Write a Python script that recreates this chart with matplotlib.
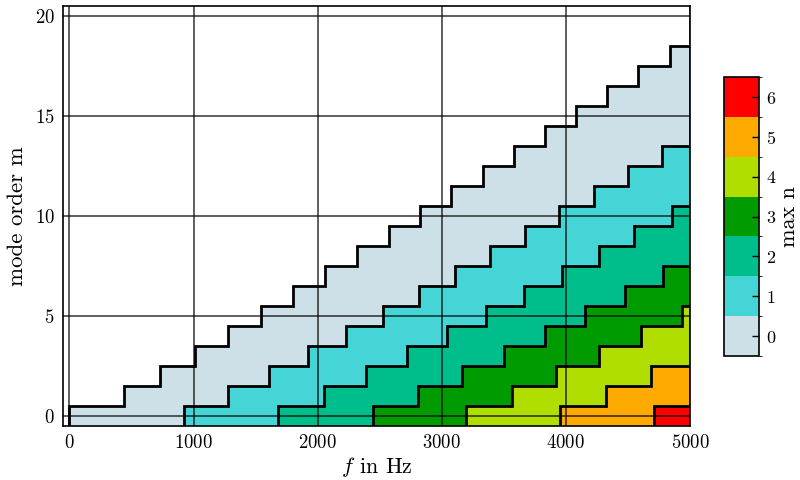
import numpy as np
import matplotlib
matplotlib.use("Agg")
import matplotlib.pyplot as plt
from matplotlib.colors import ListedColormap, BoundaryNorm

plt.rcParams["font.family"] = "serif"
plt.rcParams["font.serif"] = ["cmr10"]
plt.rcParams["mathtext.fontset"] = "cm"
plt.rcParams["axes.formatter.use_mathtext"] = True

# cut-on frequencies in Hz, one list per radial order n, index = mode order m
cuton_n0 = [0, 442, 733, 1008, 1276, 1540, 1800, 2059, 2315, 2571, 2825,
            3078, 3331, 3583, 3834, 4085, 4335, 4585, 4835]
cuton_n1 = [920, 1280, 1610, 1924, 2228, 2525, 2816, 3104, 3388, 3669,
            3948, 4224, 4499, 4772]
cuton_n2 = [1684, 2049, 2393, 2723, 3044, 3357, 3664, 3967, 4266, 4549, 4854]
cuton_n3 = [2442, 2809, 3161, 3501, 3831, 4155, 4473, 4786]
cuton_n4 = [3198, 3567, 3923, 4269, 4607, 4938]
cuton_n5 = [3953, 4324, 4683]
cuton_n6 = [4708]
cutons = [cuton_n0, cuton_n1, cuton_n2, cuton_n3, cuton_n4, cuton_n5, cuton_n6]

f_max = 5000
n_labels = [0, 1, 2, 3, 4, 5, 6]
colors = ["#cde0e8", "#46d5d6", "#00be8c", "#009b00", "#afde00", "#ffaa00", "#ff0000"]

# build mesh: columns between every cut-on frequency, rows for each m
x_edges = np.unique(np.concatenate([np.concatenate(cutons), [f_max]]))
m_count = len(cuton_n0)
y_edges = np.arange(m_count + 1) - 0.5
Z = np.full((m_count, len(x_edges) - 1), -1)
for n, fc in enumerate(cutons):
    for m, f in enumerate(fc):
        Z[m, x_edges[:-1] >= f] = n
Z = np.ma.masked_less(Z, 0)

cmap = ListedColormap(colors)
norm = BoundaryNorm(np.arange(len(colors) + 1) - 0.5, cmap.N)

fig = plt.figure(figsize=(8, 4.8), dpi=100)
ax = fig.add_axes([0.079, 0.1125, 0.7835, 0.875])
mesh = ax.pcolormesh(x_edges, y_edges, Z, cmap=cmap, norm=norm, zorder=1)

# staircase boundaries
for fc in cutons:
    xs, ys = [], []
    for m, f in enumerate(fc):
        xs += [f, f]
        ys += [m - 0.5, m + 0.5]
    xs.append(f_max)
    ys.append(len(fc) - 0.5)
    ax.plot(xs, ys, color="k", lw=2.0, zorder=3, solid_joinstyle="miter")

ax.set_xlim(-50, f_max)
ax.set_ylim(-0.5, 20.5)
ax.set_xticks([0, 1000, 2000, 3000, 4000, 5000])
ax.set_yticks([0, 5, 10, 15, 20])
ax.set_axisbelow(False)
ax.grid(True, color="k", lw=1.1, alpha=0.8, zorder=2)
ax.tick_params(direction="in", labelsize=13.5, length=0, pad=6)
for s in ax.spines.values():
    s.set_linewidth(1.2)
ax.set_xlabel(r"$f$ in Hz", fontsize=16, labelpad=2)
ax.set_ylabel("mode order m", fontsize=16.5, labelpad=6)

cax = fig.add_axes([0.905, 0.2583, 0.044, 0.581])
cb = fig.colorbar(mesh, cax=cax, ticks=n_labels)
cb.outline.set_linewidth(1.2)
cax.tick_params(direction="in", labelsize=13, length=5, width=1, pad=5)
cb.set_label("max n", fontsize=16, labelpad=2)

fig.savefig("out.png", dpi=100)
